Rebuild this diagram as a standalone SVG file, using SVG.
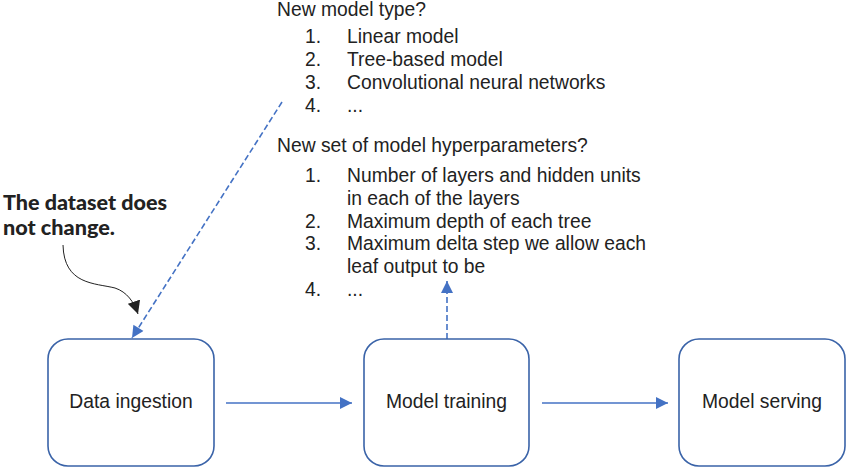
<svg xmlns="http://www.w3.org/2000/svg" width="847" height="467" viewBox="0 0 847 467">
<defs>
<style>
.box{fill:#fff;stroke:#3a63a8;stroke-width:1.6}
.lbl{font-family:"Liberation Sans",Arial,sans-serif;font-size:19.3px;fill:#222}
.note{font-family:Lato,"Liberation Sans",sans-serif;font-size:21px;font-weight:900;fill:#222}
.conn{fill:none;stroke:#4472c4;stroke-width:1.6}
.dash{stroke-dasharray:6,3}
</style>
<marker id="ah" viewBox="0 0 10 10" refX="10" refY="5" markerWidth="14" markerHeight="12" markerUnits="userSpaceOnUse" orient="auto">
<path d="M0,0 L10,5 L0,10 Z" fill="#4472c4"/>
</marker>
<marker id="ahk" viewBox="0 0 10 10" refX="10" refY="5" markerWidth="13" markerHeight="13" markerUnits="userSpaceOnUse" orient="auto">
<path d="M0,0 L10,5 L0,10 Z" fill="#222"/>
</marker>
</defs>
<rect width="847" height="467" fill="#fff"/>

<g id="connectors">
<line class="conn" x1="226" y1="403" x2="352" y2="403" marker-end="url(#ah)"/>
<line class="conn" x1="542" y1="403" x2="668" y2="403" marker-end="url(#ah)"/>
<line class="conn dash" x1="447" y1="339" x2="447" y2="281" marker-end="url(#ah)"/>
<line class="conn dash" x1="282" y1="102" x2="132" y2="338" marker-end="url(#ah)"/>
<path d="M63,245 C64,285 95,283 115,288 C127,292 134,302 138,314" fill="none" stroke="#222" stroke-width="1" marker-end="url(#ahk)"/>
</g>

<g id="node-data-ingestion">
<rect class="box" x="48" y="339" width="166" height="127" rx="20"/>
<text class="lbl" x="131" y="408" text-anchor="middle">Data ingestion</text>
</g>
<g id="node-model-training">
<rect class="box" x="364" y="339" width="165" height="127" rx="20"/>
<text class="lbl" x="446.5" y="408" text-anchor="middle">Model training</text>
</g>
<g id="node-model-serving">
<rect class="box" x="679" y="339" width="166" height="127" rx="20"/>
<text class="lbl" x="762" y="408" text-anchor="middle">Model serving</text>
</g>

<g id="note-dataset">
<text class="note" x="3" y="210" textLength="164" lengthAdjust="spacingAndGlyphs">The dataset does</text>
<text class="note" x="3" y="235" textLength="112" lengthAdjust="spacingAndGlyphs">not change.</text>
</g>

<g id="model-type">
<text class="lbl" x="277" y="16">New model type?</text>
<text class="lbl" x="305" y="43">1.</text><text class="lbl" x="347" y="43">Linear model</text>
<text class="lbl" x="305" y="66">2.</text><text class="lbl" x="347" y="66">Tree-based model</text>
<text class="lbl" x="305" y="89">3.</text><text class="lbl" x="347" y="89">Convolutional neural networks</text>
<text class="lbl" x="305" y="112">4.</text><text class="lbl" x="347" y="112">...</text>
</g>

<g id="hyperparameters">
<text class="lbl" x="277" y="152">New set of model hyperparameters?</text>
<text class="lbl" x="305" y="182">1.</text><text class="lbl" x="347" y="182">Number of layers and hidden units</text>
<text class="lbl" x="347" y="205">in each of the layers</text>
<text class="lbl" x="305" y="228">2.</text><text class="lbl" x="347" y="228">Maximum depth of each tree</text>
<text class="lbl" x="305" y="250">3.</text><text class="lbl" x="347" y="250">Maximum delta step we allow each</text>
<text class="lbl" x="347" y="273">leaf output to be</text>
<text class="lbl" x="305" y="296">4.</text><text class="lbl" x="347" y="296">...</text>
</g>
</svg>
